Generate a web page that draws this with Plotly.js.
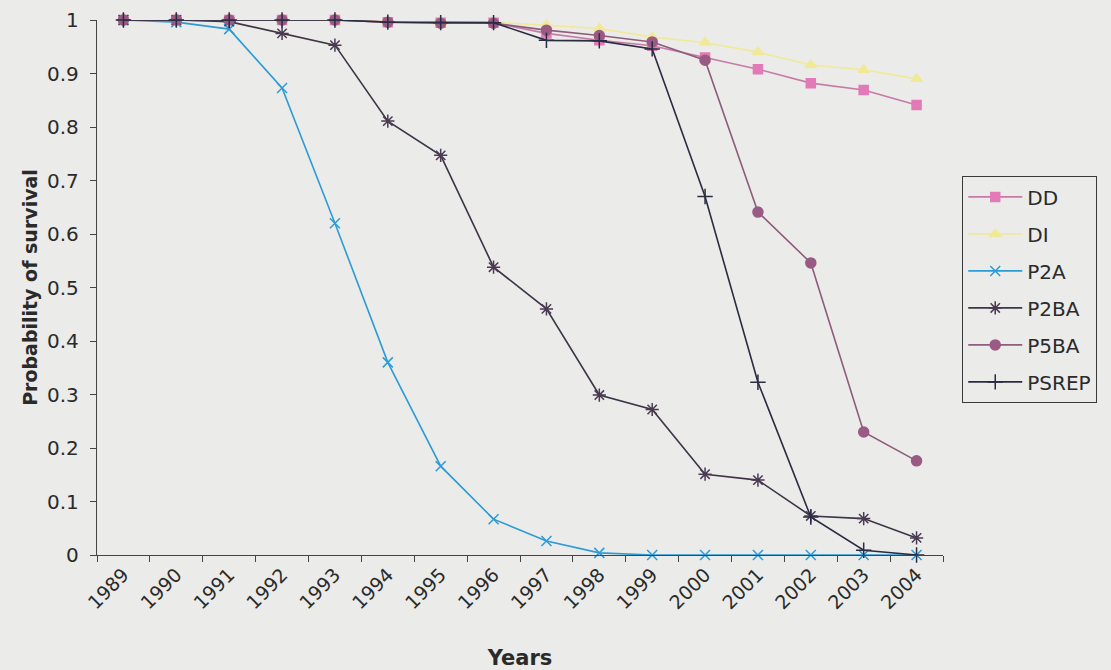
<!DOCTYPE html>
<html>
<head>
<meta charset="utf-8">
<script src="https://cdn.plot.ly/plotly-3.0.1.min.js"></script>
<style>html,body{margin:0;padding:0;background:#ebebe9;}#chart{width:1111px;height:670px;}</style>
</head>
<body>
<div id="chart"></div>
<script>
var years = ["1989","1990","1991","1992","1993","1994","1995","1996","1997","1998","1999","2000","2001","2002","2003","2004"];
var DD    = [1, 1, 1, 1, 1, 0.996, 0.995, 0.995, 0.975, 0.962, 0.952, 0.930, 0.908, 0.882, 0.869, 0.841];
var DI    = [1, 1, 1, 1, 1, 0.997, 0.996, 0.996, 0.990, 0.984, 0.968, 0.958, 0.940, 0.916, 0.907, 0.890];
var P2A   = [1, 0.996, 0.983, 0.873, 0.620, 0.360, 0.166, 0.067, 0.026, 0.004, 0.0, 0, 0, 0, 0, 0];
var P2BA  = [1, 1, 0.997, 0.975, 0.953, 0.811, 0.747, 0.538, 0.460, 0.299, 0.272, 0.151, 0.140, 0.073, 0.068, 0.032];
var P5BA  = [1, 1, 1, 1, 1, 0.996, 0.994, 0.994, 0.981, 0.971, 0.959, 0.925, 0.641, 0.546, 0.230, 0.176];
var PSREP = [1, 1, 1, 1, 1, 0.996, 0.995, 0.995, 0.962, 0.961, 0.946, 0.670, 0.323, 0.071, 0.009, 0];
var yTicks = [0,0.1,0.2,0.3,0.4,0.5,0.6,0.7,0.8,0.9,1];
var yTickText = ['0','0.1','0.2','0.3','0.4','0.5','0.6','0.7','0.8','0.9','1'];

function tr(name, y, color, lineColor, symbol, size) {
  return {
    x: years, y: y, name: name, legendgroup: name, type: 'scatter', mode: 'lines+markers',
    line: {color: lineColor, width: 1.6},
    marker: {symbol: symbol, size: size, color: color, line: {color: color, width: 1.5}},
    cliponaxis: false
  };
}
var data = [
  tr('DD', DD, '#e27ab8', '#c77aa8', 'square', 9),
  tr('DI', DI, '#f0ea98', '#f0ea98', 'triangle-up', 10),
  tr('P2A', P2A, '#2c9bd6', '#2c9bd6', 'x-thin-open', 10),
  tr('P2BA', P2BA, '#4a3a52', '#3e3446', 'asterisk-open', 11),
  tr('P5BA', P5BA, '#9a5a84', '#8e5c7c', 'circle', 10),
  tr('PSREP', PSREP, '#2a2c42', '#2a2c42', 'cross-thin-open', 11)
];
var layout = {
  width: 1111, height: 670,
  paper_bgcolor: '#ebebe9', plot_bgcolor: '#ebebe9',
  margin: {l: 97, r: 168, t: 20, b: 115},
  font: {family: 'DejaVu Sans, Liberation Sans, Arial, sans-serif', color: '#2a2a2a', size: 20},
  showlegend: true,
  legend: {
    x: 1.0225, y: 0.708, xanchor: 'left', yanchor: 'top',
    bgcolor: 'rgba(0,0,0,0)', bordercolor: '#3a3a3a', borderwidth: 1.2,
    font: {size: 20, color: '#2a2a2a'}, tracegroupgap: 8, itemwidth: 54
  },
  xaxis: {
    type: 'category', range: [-0.5, 15.5], tickson: 'boundaries',
    ticks: 'outside', ticklen: 6, tickcolor: '#444', tickwidth: 1,
    showline: true, linecolor: '#444', linewidth: 1.2,
    showgrid: false, zeroline: false, tickangle: -45,
    tickfont: {size: 19},
    title: {text: '<b>Years</b>', font: {size: 21}, standoff: 40}
  },
  yaxis: {
    range: [0, 1], tickvals: yTicks, ticktext: yTickText,
    ticks: 'outside', ticklen: 6, tickcolor: '#444', ticklabelstandoff: 7,
    showline: true, linecolor: '#444', linewidth: 1.2,
    showgrid: false, zeroline: false,
    tickfont: {size: 20},
    title: {text: '<b>Probability of survival</b>', font: {size: 19}, standoff: 4}
  }
};
Plotly.newPlot('chart', data, layout, {displayModeBar: false, staticPlot: true});
</script>
</body>
</html>
